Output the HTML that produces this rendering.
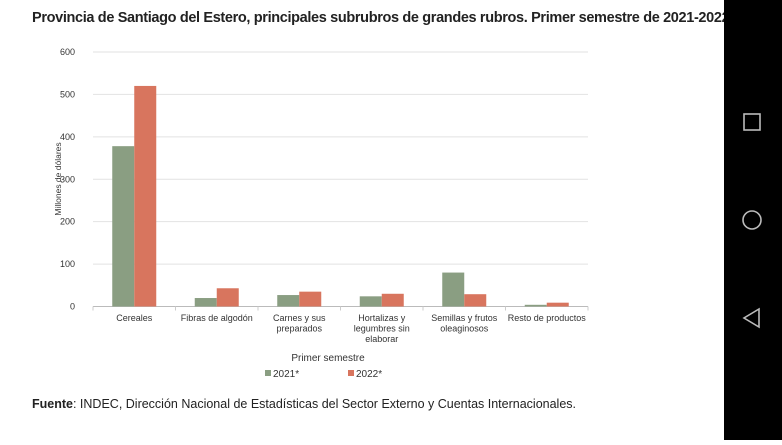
<!DOCTYPE html>
<html><head><meta charset="utf-8"><style>
body{margin:0;width:782px;height:440px;overflow:hidden;background:#fff;font-family:"Liberation Sans",sans-serif;position:relative}
#title{position:absolute;left:32px;top:10px;font-size:14.5px;font-weight:bold;color:#222;letter-spacing:-0.35px;white-space:nowrap}
#foot{position:absolute;left:32px;top:397px;font-size:12.5px;color:#222;white-space:nowrap}
#nav{position:absolute;left:724px;top:0;width:58px;height:440px;background:#000}
svg text{font-family:"Liberation Sans",sans-serif}
</style></head><body>
<div id="title">Provincia de Santiago del Estero, principales subrubros de grandes rubros. Primer semestre de 2021-2022</div>
<svg id="chart" width="724" height="395" style="position:absolute;left:0;top:0"></svg>
<div id="foot"><b>Fuente</b>: INDEC, Dirección Nacional de Estadísticas del Sector Externo y Cuentas Internacionales.</div>
<div id="nav">
<svg width="58" height="440">
<rect x="20" y="114" width="16" height="16" fill="none" stroke="#bbb" stroke-width="1.6"/>
<circle cx="28" cy="220" r="9" fill="none" stroke="#bbb" stroke-width="1.6"/>
<polygon points="35,309 35,327 20,318" fill="none" stroke="#bbb" stroke-width="1.6"/>
</svg></div>
<script>
const categories=[["Cereales"],["Fibras de algodón"],["Carnes y sus","preparados"],["Hortalizas y","legumbres sin","elaborar"],["Semillas y frutos","oleaginosos"],["Resto de productos"]];
const series2021=[378,20,27,24,80,4];
const series2022=[520,43,35,30,29,9];
const yTicks=[0,100,200,300,400,500,600];
const ns="http://www.w3.org/2000/svg";
const svg=document.getElementById('chart');
const x0=93,x1=588,y0=306.5,y1=52,ymax=600;
const y=v=>y0-(v/ymax)*(y0-y1);
const bw=(x1-x0)/categories.length;
const cx=i=>x0+bw*(i+0.5);
function mk(tag,attrs,parent){const e=document.createElementNS(ns,tag);for(const k in attrs)e.setAttribute(k,attrs[k]);(parent||svg).appendChild(e);return e;}
yTicks.forEach(t=>{
const l=mk('line',{x1:x0,x2:x1,y1:y(t),y2:y(t),stroke:t===0?'#bbb':'#e2e2e2','stroke-width':1});


const tx=mk('text',{x:75,y:y(t)+3,'text-anchor':'end','font-size':9,fill:'#333'});tx.textContent=t;


});
for(let i=0;i<=categories.length;i++){
const tk=mk('line',{x1:x0+bw*i,x2:x0+bw*i,y1:y0,y2:y0+4,stroke:'#ccc'});


}
const barW=22;
categories.forEach((c,i)=>{
const a=mk('rect',{x:cx(i)-barW,y:y(series2021[i]),width:barW,height:y0-y(series2021[i]),fill:'#8a9e82'});


const b=mk('rect',{x:cx(i),y:y(series2022[i]),width:barW,height:y0-y(series2022[i]),fill:'#d8755e'});


const t=mk('text',{x:cx(i),y:321,'text-anchor':'middle','font-size':9,fill:'#333'});


c.forEach((ln,j)=>{const s=mk('tspan',{x:cx(i),dy:j?10.5:0},t);s.textContent=ln;});
});
const yt=mk('text',{transform:'translate(61,179) rotate(-90)','text-anchor':'middle','font-size':8.5,fill:'#333'});yt.textContent='Millones de dólares';


const lt=mk('text',{x:328,y:361,'text-anchor':'middle','font-size':10,fill:'#333'});lt.textContent='Primer semestre';


[['2021*','#8a9e82',265],['2022*','#d8755e',348]].forEach(([n,c,lx])=>{
const g=mk('g',{});


mk('rect',{x:lx,y:370,width:6,height:6,fill:c},g);
const t=mk('text',{x:lx+8,y:377,'font-size':10,fill:'#333'},g);t.textContent=n;
});
</script>
</body></html>
